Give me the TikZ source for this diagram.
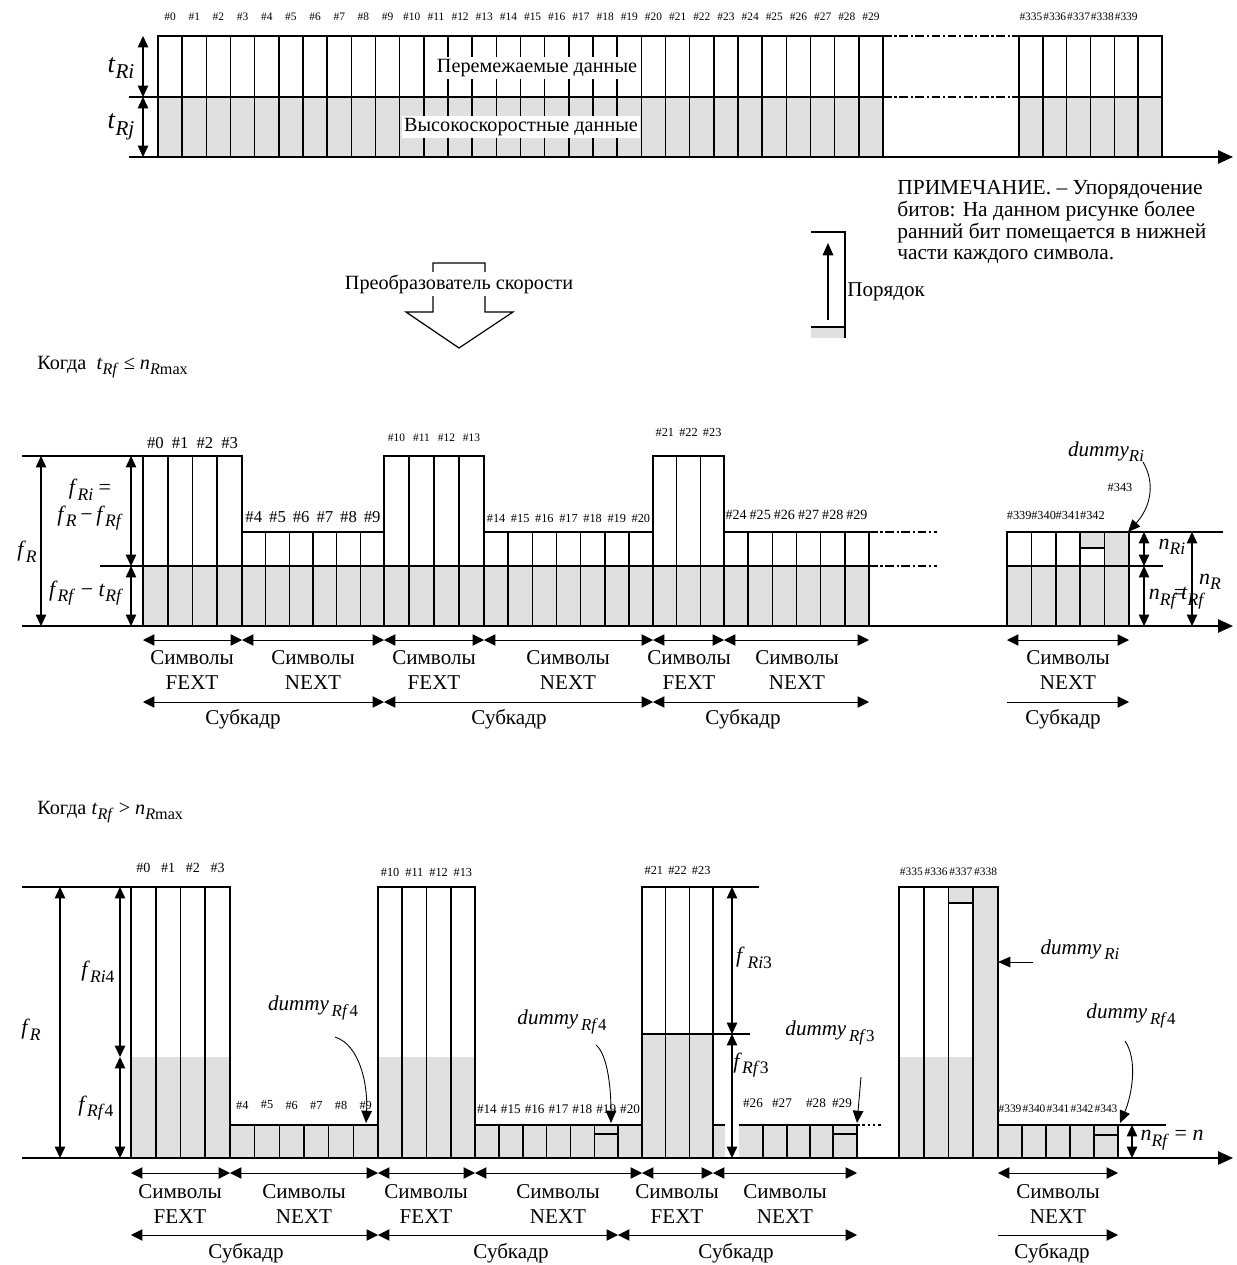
\documentclass[tikz,border=0pt]{standalone}
\usepackage{fontspec}
\setmainfont{Liberation Serif}
\usetikzlibrary{arrows.meta,positioning}
\definecolor{bitgray}{gray}{0.88}
% italic symbol with a large lowered subscript
\newcommand{\sym}[2]{\textit{#1}\raisebox{-0.55ex}{\scalebox{0.8}{\textit{#2}}}}
% a block of #3 equal symbols from x=#1 to x=#2, top #4, bottom #5
\newcommand{\cellrow}[5]{%
  \pgfmathsetmacro{\cw}{(#2-#1)/#3}
  \draw[cell] (#1,#4) rectangle (#2,#5);
  \foreach \k in {1,...,#3} \draw[cell] ({#1+\k*\cw},#4) -- ({#1+\k*\cw},#5);
}
% symbol numbers over a block: x0, width, y, style, list
\newcommand{\hashrow}[5]{%
  \foreach \lab [count=\k] in {#5} \node[#4] at ({#1+(\k-0.5)*#2},#3) {\#\lab};
}

\begin{document}
\begin{tikzpicture}[x=0.02cm, y=-0.02cm,
  cell/.style={line width=0.9pt},
  gapline/.style={line width=0.9pt, dash pattern=on 5pt off 1.5pt on 1.2pt off 1.5pt},
  axisarr/.style={line width=1.1pt, -{Triangle[length=8.5pt,width=7.5pt]}},
  dimarr/.style={line width=0.6pt, {Triangle[length=6.5pt,width=6pt]}-{Triangle[length=6.5pt,width=6pt]}},
  spanarr/.style={line width=0.5pt, {Triangle[length=6.5pt,width=6.5pt]}-{Triangle[length=6.5pt,width=6.5pt]}},
  endarr/.style={line width=0.5pt, -{Triangle[length=6.5pt,width=6.5pt]}},
  ptr/.style={line width=0.5pt, -{Triangle[length=7pt,width=6pt]}},
  hash/.style={font=\fontsize{#1}{#1}\selectfont, inner sep=0pt},
  lbl/.style={font=\fontsize{12}{13.7}\selectfont, align=center, inner sep=0pt},
  var/.style={font=\fontsize{12.5}{14}\selectfont, align=center, inner sep=0pt}
]
\useasboundingbox (0,0) rectangle (1237,1265);

% ---------- input frame
\fill[bitgray] (158,97) rectangle (883,157);
\fill[bitgray] (1019,97) rectangle (1162,157);
\cellrow{158}{883}{30}{36}{157}
\cellrow{1019}{1162}{6}{36}{157}
\draw[cell] (129,97) -- (883,97);
\draw[cell] (1019,97) -- (1162,97);
\draw[gapline] (883,36) -- (1019,36);
\draw[gapline] (883,97) -- (1019,97);
\draw[axisarr] (129,157) -- (1233,157);
\draw[dimarr] (143,36) -- (143,97);
\draw[dimarr] (143,97) -- (143,157);
\node[var, font=\fontsize{15}{16}\selectfont] (tri) at (121,68) {\sym{t}{Ri}};
\node[var, font=\fontsize{15}{16}\selectfont] (trj) at (121,127) {\sym{t}{Rj}};
\hashrow{158}{24.17}{17}{hash=6.5}{0,...,29}
\hashrow{1019}{23.83}{17}{hash=6.5}{335,...,339}
\node[lbl, font=\fontsize{11.5}{13}\selectfont, fill=white, inner sep=1.5pt] (ilv) at (537,68) {Перемежаемые данные};
\node[lbl, font=\fontsize{11.5}{13}\selectfont, fill=white, inner sep=1.5pt] (fst) at (521,127) {Высокоскоростные данные};

% ---------- converter and bit order
\draw[line width=0.7pt] (433,263) -- (485,263) -- (485,312) -- (513,312) -- (459,348)
  -- (406,312) -- (433,312) -- cycle;
\node[lbl, font=\fontsize{11.5}{13}\selectfont, fill=white, inner sep=1.5pt] (conv) at (459,284) {Преобразователь скорости};
\fill[bitgray] (811,327) rectangle (845,338);
\draw[line width=0.6pt] (811,232) -- (845,232) -- (845,338);
\draw[cell] (811,327) -- (845,327);
\draw[ptr, line width=0.9pt] (828,320) -- (828,243);
\node[lbl, font=\fontsize{12}{13}\selectfont, anchor=west] (ord) at (847,292) {Порядок};
\node[font=\fontsize{12.2}{12.4}\selectfont, align=left, anchor=north west, inner sep=0pt] (note) at (897,180)
  {ПРИМЕЧАНИЕ. – Упорядочение\\битов: На данном рисунке более\\ранний бит помещается в нижней\\части каждого символа.};

% ---------- case t_Rf <= n_Rmax
\node[lbl, font=\fontsize{11.5}{13}\selectfont, anchor=west] (case1) at (37,367) {Когда \ \sym{t}{Rf} ≤ \sym{n}{R\textup{max}}};
\fill[bitgray] (143,566) rectangle (869,626);
\fill[bitgray] (1007,566) rectangle (1129,626);
\fill[bitgray] (1081,532) rectangle (1105,548);
\fill[bitgray] (1105,532) rectangle (1129,566);
\cellrow{143}{242}{4}{456}{626}
\cellrow{242}{384}{6}{532}{626}
\cellrow{384}{484}{4}{456}{626}
\cellrow{484}{653}{7}{532}{626}
\cellrow{653}{724}{3}{456}{626}
\cellrow{724}{869}{6}{532}{626}
\cellrow{1007}{1129}{5}{532}{626}
\draw[cell] (1081,548) -- (1105,548);
\draw[cell] (22,456) -- (143,456);
\draw[cell] (100,566) -- (869,566);
\draw[cell] (1007,566) -- (1163,566);
\draw[cell] (1129,532) -- (1223,532);
\draw[gapline] (869,532) -- (937,532);
\draw[gapline] (869,566) -- (937,566);
\draw[axisarr] (22,626) -- (1233,626);
\draw[dimarr] (41,456) -- (41,626);
\draw[dimarr] (131,456) -- (131,566);
\draw[dimarr] (131,566) -- (131,626);
\draw[dimarr] (1144,532) -- (1144,566);
\draw[dimarr] (1144,566) -- (1144,626);
\draw[dimarr] (1192,532) -- (1192,626);
\node[var] (fr1) at (27,552) {\sym{f}{R}};
\node[var] (fri1) at (90,490) {\sym{f}{Ri} =};
\node[var] (frd1) at (90,518) {\sym{f}{R}\,−\,\sym{f}{Rf}};
\node[var] (frf1) at (86,593) {\sym{f}{Rf} − \sym{t}{Rf}};
\node[var] (nri) at (1172,547) {\sym{n}{Ri}};
\node[var] (nr) at (1210,582) {\sym{n}{R}};
\node[var] (nrf) at (1177,598) {\sym{n}{Rf}\kern-2pt=\kern-3pt\sym{t}{Rf}};
\hashrow{143}{24.75}{443}{hash=9.5}{0,...,3}
\hashrow{242}{23.67}{517}{hash=9.5}{4,...,9}
\hashrow{384}{25}{438}{hash=6.5}{10,...,13}
\hashrow{484}{24.14}{518}{hash=7}{14,...,20}
\hashrow{653}{23.67}{432}{hash=7}{21,22,23}
\hashrow{724}{24.17}{515}{hash=8}{24,...,29}
\hashrow{1007}{24.4}{515}{hash=7}{339,...,342}
\node[hash=7] (h343) at (1120,487) {\#343};
\node[var, font=\fontsize{12}{14}\selectfont] (dri1) at (1106,452) {\sym{dummy}{Ri}};
\draw[ptr] (1143,462) .. controls (1156,484) and (1150,508) .. (1128,532);
\foreach \a/\b in {143/242,242/384,384/484,484/653,653/724,724/869,1007/1129}
  \draw[spanarr] (\a,640) -- (\b,640);
\foreach \a/\b in {143/384,384/653,653/869}
  \draw[spanarr] (\a,702) -- (\b,702);
\draw[endarr] (1007,702) -- (1129,702);
\foreach \c/\t in {192/FEXT,313/NEXT,434/FEXT,568/NEXT,689/FEXT,797/NEXT,1068/NEXT}
  \node[lbl] at (\c,670) {Символы\\\t};
\foreach \c in {243,509,743,1063}
  \node[lbl] at (\c,719) {Субкадр};

% ---------- case t_Rf > n_Rmax
\node[lbl, font=\fontsize{11.5}{13}\selectfont, anchor=west] (case2) at (37,812) {Когда \sym{t}{Rf} > \sym{n}{R\textup{max}}};
\fill[bitgray] (131,1057) rectangle (230,1158);
\fill[bitgray] (230,1125) rectangle (378,1158);
\fill[bitgray] (378,1057) rectangle (475,1158);
\fill[bitgray] (475,1125) rectangle (642,1158);
\fill[bitgray] (642,1034) rectangle (713,1158);
\fill[bitgray] (713,1125) rectangle (725,1158);
\fill[bitgray] (739,1125) rectangle (857,1158);
\fill[bitgray] (899,1057) rectangle (972,1158);
\fill[bitgray] (948,887) rectangle (972,903);
\fill[bitgray] (972,887) rectangle (998,1158);
\fill[bitgray] (998,1125) rectangle (1118,1158);
\cellrow{131}{230}{4}{887}{1158}
\cellrow{230}{378}{6}{1125}{1158}
\cellrow{378}{475}{4}{887}{1158}
\cellrow{475}{642}{7}{1125}{1158}
\cellrow{642}{713}{3}{887}{1158}
\cellrow{899}{998}{4}{887}{1158}
\cellrow{998}{1118}{5}{1125}{1158}
\draw[cell] (713,1125) -- (725,1125);
\draw[cell] (739,1125) -- (857,1125);
\foreach \x in {763,787,810,833,857} \draw[cell] (\x,1125) -- (\x,1158);
\draw[cell] (594,1134) -- (618,1134);
\draw[cell] (833,1134) -- (857,1134);
\draw[cell] (1094,1135) -- (1118,1135);
\draw[cell] (948,903) -- (974,903);
\draw[cell] (642,1034) -- (750,1034);
\draw[cell] (713,887) -- (759,887);
\draw[cell] (22,887) -- (131,887);
\draw[cell] (1118,1125) -- (1166,1125);
\draw[gapline, dash pattern=on 1.5pt off 1.5pt] (857,1125) -- (883,1125);
\draw[axisarr] (22,1158) -- (1233,1158);
\draw[dimarr] (60,887) -- (60,1158);
\draw[dimarr] (120,887) -- (120,1057);
\draw[dimarr] (120,1057) -- (120,1158);
\draw[dimarr] (732,887) -- (732,1034);
\draw[dimarr] (732,1034) -- (732,1158);
\draw[dimarr] (1132,1125) -- (1132,1158);
\node[var] (fr2) at (31,1030) {\sym{f}{R}};
\node[var] (fri4) at (98,972) {\sym{f}{Ri\textup{4}}};
\node[var] (frf4) at (96,1108) {\sym{f}{Rf\textup{4}}};
\node[var] (fri3) at (754,958) {\sym{f}{\,Ri\textup{3}}};
\node[var] (frf3) at (751,1065) {\sym{f}{Rf\textup{3}}};
\node[var] (nrfn) at (1172,1140) {\sym{n}{Rf} = \textit{n}};
\hashrow{131}{24.75}{868}{hash=8}{0,...,3}
\hashrow{230}{24.67}{1105}{hash=7}{4,...,9}
\hashrow{378}{24.25}{872}{hash=7}{10,...,13}
\hashrow{475}{23.86}{1109}{hash=7.5}{14,...,20}
\hashrow{642}{23.67}{870}{hash=7}{21,22,23}
\foreach \x/\n in {753/26,782/27,816/28,842/29} \node[hash=7.5] at (\x,1103) {\#\n};
\hashrow{899}{24.75}{872}{hash=6.5}{335,...,338}
\hashrow{998}{24}{1109}{hash=6.5}{339,...,343}
\node[var, font=\fontsize{12}{14}\selectfont] (drf1) at (313,1008) {\sym{dummy}{\,Rf\,\textup{4}}};
\draw[ptr] (335,1037) .. controls (360,1045) and (368,1085) .. (366,1123);
\node[var, font=\fontsize{12}{14}\selectfont] (drf2) at (562,1022) {\sym{dummy}{\,Rf\textup{4}}};
\draw[ptr] (596,1045) .. controls (608,1055) and (611,1090) .. (611,1123);
\node[var, font=\fontsize{12}{14}\selectfont] (drf3) at (830,1033) {\sym{dummy}{\,Rf\textup{3}}};
\draw[ptr] (861,1077) -- (857,1123);
\node[var, font=\fontsize{12}{14}\selectfont] (dri2) at (1080,950) {\sym{dummy}{\,Ri}};
\draw[ptr] (1033,962) -- (998,962);
\node[var, font=\fontsize{12}{14}\selectfont] (drf4) at (1131,1016) {\sym{dummy}{\,Rf\textup{4}}};
\draw[ptr] (1125,1041) .. controls (1138,1060) and (1132,1095) .. (1120,1123);
\foreach \a/\b in {131/230,230/378,378/475,475/642,642/713,713/857,998/1118}
  \draw[spanarr] (\a,1173) -- (\b,1173);
\foreach \a/\b in {131/378,378/618,618/857}
  \draw[spanarr] (\a,1235) -- (\b,1235);
\draw[endarr] (998,1235) -- (1118,1235);
\foreach \c/\t in {180/FEXT,304/NEXT,426/FEXT,558/NEXT,677/FEXT,785/NEXT,1058/NEXT}
  \node[lbl] at (\c,1204) {Символы\\\t};
\foreach \c in {246,511,736,1052}
  \node[lbl] at (\c,1253) {Субкадр};
\end{tikzpicture}
\end{document}
